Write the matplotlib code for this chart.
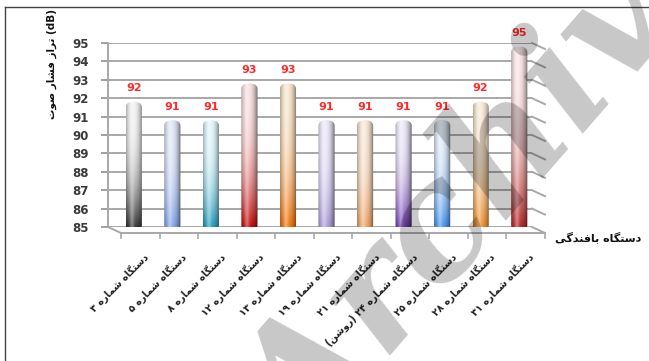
import numpy as np
import matplotlib
matplotlib.use("Agg")
import matplotlib.pyplot as plt
from matplotlib.patches import FancyBboxPatch
from matplotlib.lines import Line2D
from matplotlib.transforms import ScaledTranslation
from matplotlib.colors import to_rgb

plt.rcParams['font.family'] = ['DejaVu Sans']

machines = ["۳", "۵", "۸", "۱۲", "۱۳", "۱۹", "۲۱", "۲۴ (روشن)", "۲۵", "۲۸", "۳۱"]
levels = [92, 91, 91, 93, 93, 91, 91, 91, 91, 92, 95]
top_colors = ['#f2f2f2', '#e2e8f8', '#e2f6fa', '#f8e0e0', '#f8e6d0', '#ece8f8',
              '#f8e8d8', '#ece8f8', '#e2eefa', '#f8ead8', '#fae6e6']
bottom_colors = ['#2a2a2a', '#7d9ee6', '#1596b8', '#c00000', '#f07000', '#a898dc',
                 '#f0a060', '#6a30b0', '#3c8ef0', '#f08a20', '#b02020']
y_title = "تراز فشار صوت"
x_title = "دستگاه بافندگی"
label_prefix = "دستگاه شماره"

# --- minimal Persian shaping (presentation forms) + visual ordering ---
DUAL = {
    'ب': 'ﺏﺐﺑﺒ', 'ت': 'ﺕﺖﺗﺘ', 'س': 'ﺱﺲﺳﺴ', 'ش': 'ﺵﺶﺷﺸ', 'ص': 'ﺹﺺﺻﺼ',
    'ف': 'ﻑﻒﻓﻔ', 'ل': 'ﻝﻞﻟﻠ', 'م': 'ﻡﻢﻣﻤ', 'ن': 'ﻥﻦﻧﻨ', 'ه': 'ﻩﻪﻫﻬ',
    'گ': '\ufb92\ufb93\ufb94\ufb95', 'ی': '\ufbfc\ufbfd\ufbfe\ufbff',
}
RIGHT = {'ا': 'ﺍﺎ', 'د': 'ﺩﺪ', 'ر': 'ﺭﺮ', 'ز': 'ﺯﺰ', 'و': 'ﻭﻮ'}
MIRROR = {'(': ')', ')': '('}


def shape(word):
    out = []
    for i, ch in enumerate(word):
        prev = word[i - 1] if i > 0 else ''
        nxt = word[i + 1] if i + 1 < len(word) else ''
        jp = prev in DUAL
        jn = ch in DUAL and (nxt in DUAL or nxt in RIGHT)
        if ch in DUAL:
            f = DUAL[ch]
            out.append(f[3] if jp and jn else f[1] if jp else f[2] if jn else f[0])
        elif ch in RIGHT:
            out.append(RIGHT[ch][1] if jp else RIGHT[ch][0])
        else:
            out.append(ch)
    return ''.join(out)


def rtl(text):
    s = shape(text)
    runs, cur, is_dig = [], '', None
    for ch in s:
        d = '\u06f0' <= ch <= '\u06f9'
        if cur and d != is_dig:
            runs.append((cur, is_dig))
            cur = ''
        cur += ch
        is_dig = d
    runs.append((cur, is_dig))
    vis = []
    for r, d in reversed(runs):
        vis.append(r if d else ''.join(MIRROR.get(c, c) for c in reversed(r)))
    return ''.join(vis)


W_PX, H_PX, DPI = 649, 361, 100
fig = plt.figure(figsize=(W_PX / DPI, H_PX / DPI), dpi=DPI)
ax = fig.add_axes([108 / W_PX, 1 - 227 / H_PX, (532 - 108) / W_PX, (227 - 43) / H_PX])
n = len(levels)
ax.set_xlim(-0.5, n - 0.5)
ax.set_ylim(85, 95)

ax.set_yticks(range(85, 96))
ax.set_xticks([])
ax.tick_params(axis='y', length=5, width=1.4, color='#a0a0a0', labelsize=8.5,
               labelcolor='#3a3a3a', pad=9)
for t in ax.get_yticklabels():
    t.set_fontweight('bold')
ax.yaxis.grid(True, color='#a8a8a8', lw=1.4)
ax.set_axisbelow(True)
for s in ['top', 'right', 'bottom']:
    ax.spines[s].set_visible(False)
ax.spines['left'].set_color('#a8a8a8')
ax.spines['left'].set_linewidth(1.4)

# floor / side wall depth
depth = np.array([13, -6])


def to_fig(pt_display):
    return fig.transFigure.inverted().transform(pt_display)


def depth_line(p_disp):
    a = to_fig(p_disp)
    b = to_fig(p_disp + depth)
    fig.add_artist(Line2D([a[0], b[0]], [a[1], b[1]], color='#a8a8a8', lw=1.4))


for v in range(85, 96):
    depth_line(ax.transData.transform((n - 0.5, v)))
depth_line(ax.transData.transform((-0.5, 85)))
fl = to_fig(ax.transData.transform((-0.5, 85)) + depth)
fr = to_fig(ax.transData.transform((n - 0.5, 85)) + depth)
fig.add_artist(Line2D([fl[0], fr[0]], [fl[1], fr[1]], color='#a8a8a8', lw=1.4))
for k in range(n + 1):
    p = ax.transData.transform((k - 0.5, 85)) + depth
    a = to_fig(p)
    b = to_fig(p + np.array([0, -5]))
    fig.add_artist(Line2D([a[0], b[0]], [a[1], b[1]], color='#a8a8a8', lw=1.2))

# cylinders
bar_tr = ax.transData + ScaledTranslation(6.5 / DPI, -3.5 / DPI, fig.dpi_scale_trans)
bw = 0.42
H, Wd = 200, 40
tt = np.linspace(0, 1, H)[:, None, None]
uu = np.linspace(-1, 1, Wd)[None, :, None]
for i, v in enumerate(levels):
    top = np.array(to_rgb(top_colors[i]))
    bot = np.array(to_rgb(bottom_colors[i]))
    mix = tt ** 2.6
    base = top * (1 - mix) + bot * mix
    shade = 1 - 0.4 * np.abs(uu + 0.15) ** 2.4
    col = base * shade
    hl = 0.35 * np.exp(-((uu + 0.3) / 0.28) ** 2)
    col = col + hl * (1 - col)
    col = np.clip(col, 0, 1)
    patch = FancyBboxPatch((i - bw / 2, 85), bw, v - 85,
                           boxstyle=f"round,pad=0,rounding_size={bw / 2}",
                           mutation_aspect=1.45, transform=bar_tr,
                           fc='none', ec='none')
    ax.add_patch(patch)
    im = ax.imshow(col, extent=(i - bw / 2, i + bw / 2, 85, v), aspect='auto',
                   transform=bar_tr, zorder=3, interpolation='bilinear')
    im.set_clip_path(patch)
    ax.text(i, v, str(v), transform=ax.transData + ScaledTranslation(6.5 / DPI, 10 / DPI, fig.dpi_scale_trans),
            ha='center', va='center', color='#ff2a2a', fontsize=8, fontweight='bold', zorder=4)
    ax.text(i, 85, rtl(label_prefix + " " + machines[i]),
            transform=ax.transData + ScaledTranslation(15 / DPI, -24 / DPI, fig.dpi_scale_trans),
            rotation=45, ha='right', va='top', rotation_mode='anchor',
            fontsize=7, fontweight='bold', color='#222222', clip_on=False)
ax.set_xlim(-0.5, n - 0.5)
ax.set_ylim(85, 95)

fig.text(555 / W_PX, 1 - 237 / H_PX, rtl(x_title), ha='left', va='center',
         fontsize=8, fontweight='bold', color='#111111')
fig.text(52 / W_PX, 1 - 64 / H_PX, rtl(y_title) + " (dB)", rotation=90,
         ha='center', va='center', fontsize=7.5, fontweight='bold', color='#111111')

# page frame
fig.add_artist(Line2D([5 / W_PX, 5 / W_PX], [0, 1 - 7 / H_PX], color='#444444', lw=1))
fig.add_artist(Line2D([5 / W_PX, 1], [1 - 7 / H_PX, 1 - 7 / H_PX], color='#444444', lw=1))

# watermark
fig.text(0.765, 0.50, "Archive", rotation=49, ha='center', va='center',
         fontsize=115, family='DejaVu Serif', style='italic', fontweight='bold',
         color='black', alpha=0.22, zorder=10)

fig.savefig("out.png", dpi=DPI)
